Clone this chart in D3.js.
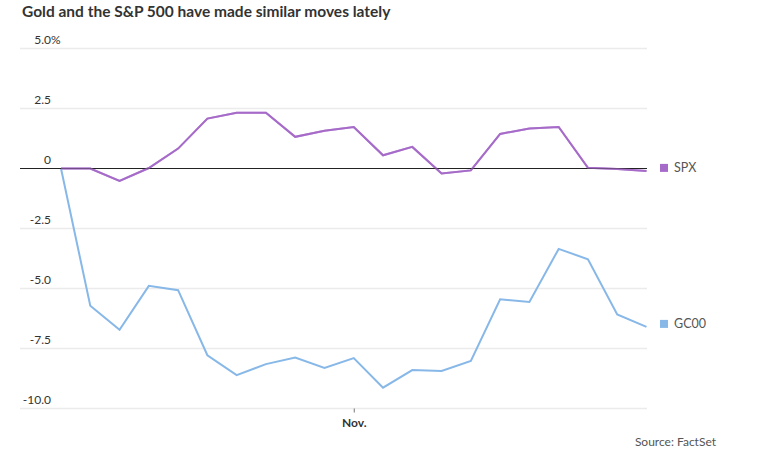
<!DOCTYPE html>
<html><head><meta charset="utf-8">
<script src="https://cdn.jsdelivr.net/npm/d3@7"></script>
<style>
body{margin:0;background:#fff;}
svg{font-family:Lato,"Open Sans",sans-serif;}
</style></head>
<body><svg id="c" width="764" height="471"></svg>
<script>
const dates = ["Oct 18","Oct 21","Oct 22","Oct 23","Oct 24","Oct 25","Oct 28","Oct 29","Oct 30","Oct 31","Nov 1","Nov 4","Nov 5","Nov 6","Nov 7","Nov 8","Nov 11","Nov 12","Nov 13","Nov 14","Nov 15"];
const spx = [0,0,-0.52,0.02,0.83,2.08,2.32,2.32,1.32,1.57,1.73,0.55,0.9,-0.21,-0.08,1.44,1.67,1.73,0.03,-0.02,-0.1];
const gc00 = [0,-5.72,-6.72,-4.89,-5.07,-7.78,-8.61,-8.15,-7.88,-8.31,-7.9,-9.13,-8.4,-8.44,-8.02,-5.45,-5.56,-3.35,-3.78,-6.08,-6.6];
const yTicks = [5,2.5,0,-2.5,-5,-7.5,-10];
const yTickLabels = ["5.0","2.5","0","-2.5","-5.0","-7.5","-10.0"];
const yTickSuffix = ["%","","","","","",""];
const xTickDates = ["Nov 1"];
const xTickLabels = ["Nov."];
const seriesNames = ["SPX","GC00"];
const colors = ["#a66bc9","#87b8e8"];

const svg = d3.select("#c");
const x = d3.scalePoint().domain(dates).range([61,646.5]);
const y = d3.scaleLinear().domain([-10,5]).range([408.5,48.5]);
const gridL = 20, gridR = 647;

svg.append("text").attr("x",22).attr("y",17).attr("font-size",15.5).attr("font-weight",700)
  .attr("fill","#333").text("Gold and the S&P 500 have made similar moves lately");

// grid
const g = svg.append("g");
yTicks.forEach((t,i)=>{
  if(t!==0) g.append("line").attr("x1",gridL).attr("x2",gridR).attr("y1",y(t)).attr("y2",y(t))
    .attr("stroke","#ebebeb").attr("stroke-width",1.5);
  g.append("text").attr("x",51).attr("y",y(t)-5).attr("font-size",12).attr("fill","#333")
    .attr("text-anchor","end").text(yTickLabels[i]);
  if(yTickSuffix[i]) g.append("text").attr("x",51).attr("y",y(t)-5).attr("font-size",12).attr("fill","#333")
    .text(yTickSuffix[i]);
});

// x axis
const xAxis = d3.axisBottom(x).tickValues(xTickDates).tickFormat((d,i)=>xTickLabels[i]).tickSize(4).tickPadding(6);
const ax = svg.append("g").attr("transform",`translate(0,${y(-10)})`).call(xAxis);
ax.select(".domain").remove();
ax.selectAll(".tick line").attr("stroke","#777");
ax.selectAll(".tick text").attr("font-size",12).attr("font-weight",700).attr("fill","#333")
  .attr("font-family","Lato,sans-serif");

const line = d3.line().x((d,i)=>x(dates[i])).y(d=>y(d));
const data = [spx,gc00];
data.forEach((s,k)=>{
  svg.append("path").datum(s).attr("d",line).attr("fill","none").attr("stroke",colors[k])
    .attr("stroke-width",2).attr("stroke-linejoin","miter");
});

// zero line
svg.append("line").attr("x1",gridL).attr("x2",gridR).attr("y1",y(0)).attr("y2",y(0))
  .attr("stroke","#222").attr("stroke-width",1.2);
svg.append("path").datum(spx).attr("d",line).attr("fill","none").attr("stroke",colors[0])
  .attr("stroke-width",2).attr("opacity",0.6);

// legend
data.forEach((s,k)=>{
  const ly = y(s[s.length-1]) - 3;
  svg.append("rect").attr("x",660).attr("y",ly-4).attr("width",8).attr("height",8).attr("fill",colors[k]);
  svg.append("text").attr("x",674).attr("y",ly+4.5).attr("font-size",12.5).attr("fill","#555").text(seriesNames[k]);
});

svg.append("text").attr("x",716).attr("y",446).attr("text-anchor","end").attr("font-size",12)
  .attr("fill","#555").text("Source: FactSet");
</script></body></html>
